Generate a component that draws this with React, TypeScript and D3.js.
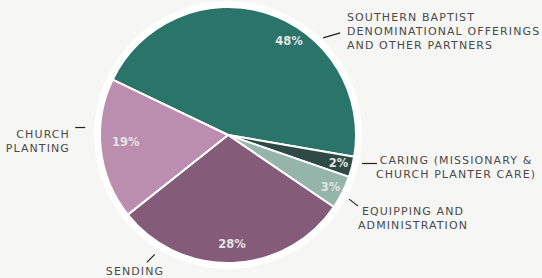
import React from 'react';
import * as d3 from 'd3';

// slice shares (the printed labels are rounded differently)
const categories = ['southern', 'caring', 'equipping', 'sending', 'planting'];
const shares = [45.6, 2.6, 4.2, 29.8, 17.8];
const pctLabels = ['48%', '2%', '3%', '28%', '19%'];
const colors = ['#2b7469', '#2f4a45', '#95b5aa', '#855b7a', '#bb8daf'];

const nameLines = [
  ['SOUTHERN BAPTIST', 'DENOMINATIONAL OFFERINGS', 'AND OTHER PARTNERS'],
  ['CARING (MISSIONARY &', 'CHURCH PLANTER CARE)'],
  ['EQUIPPING AND', 'ADMINISTRATION'],
  ['SENDING'],
  ['CHURCH', 'PLANTING'],
];

const W = 542;
const H = 278;
const cx = 228;
const cy = 135;
const R = 128;
const ringR = 134;
const startDeg = -64.4;

// label placement tweaks (layout, not data)
const pctNudge = [[28, 10], [5, 1], [5, 3], [0, 0], [6, -5]];
const leaders = [
  { deg: 44.4, r: 136, dx: 17, dy: -5 },
  { deg: 102, r: 137, dx: 15, dy: 0 },
  { deg: 117.9, r: 137, dx: 9, dy: 7 },
  { deg: 211.5, r: 140, dx: -8, dy: 8 },
  { deg: 273, r: 143, dx: -10, dy: 0 },
];
const textPos = [
  { x: 347, y: 21, anchor: 'start' },
  { x: 456, y: 164, anchor: 'middle' },
  { x: 413, y: 215, anchor: 'middle' },
  { x: 135, y: 275, anchor: 'middle' },
  { x: 70, y: 138, anchor: 'end' },
];

const rad = (d: number) => (d * Math.PI) / 180;

export default function App() {
  const pie = d3
    .pie<number>()
    .sort(null)
    .startAngle(rad(startDeg))
    .endAngle(rad(startDeg) + 2 * Math.PI)
    .value((d) => d);
  const arcs = pie(shares);
  const arc = d3.arc<d3.PieArcDatum<number>>().innerRadius(0).outerRadius(R);
  const labelArc = d3.arc<d3.PieArcDatum<number>>().innerRadius(104).outerRadius(114);

  const font = "'DejaVu Sans', sans-serif";

  return (
    <svg width={W} height={H} style={{ position: 'fixed', left: 0, top: 0, display: 'block' }}>
      <rect width={W} height={H} fill="#f6f6f5" />
      <g transform={`translate(${cx},${cy})`}>
        <circle r={ringR} fill="#ffffff" />
        {arcs.map((a, i) => (
          <path key={categories[i]} d={arc(a) || ''} fill={colors[i]} stroke="#ffffff" strokeWidth={2} strokeLinejoin="round" />
        ))}
        {arcs.map((a, i) => {
          const [x, y] = labelArc.centroid(a);
          return (
            <text
              key={'p' + i}
              x={x + pctNudge[i][0]}
              y={y + pctNudge[i][1]}
              dy="0.36em"
              textAnchor="middle"
              fontFamily={font}
              fontWeight="bold"
              fontSize={11.5}
              fill="#e4e4e4"
            >
              {pctLabels[i]}
            </text>
          );
        })}
        {leaders.map((l, i) => {
          const x0 = Math.sin(rad(l.deg)) * l.r;
          const y0 = -Math.cos(rad(l.deg)) * l.r;
          return <line key={'l' + i} x1={x0} y1={y0} x2={x0 + l.dx} y2={y0 + l.dy} stroke="#222" strokeWidth={1.2} />;
        })}
      </g>
      {nameLines.map((lines, i) => (
        <text
          key={'n' + i}
          x={textPos[i].x}
          y={textPos[i].y}
          textAnchor={textPos[i].anchor as any}
          fontFamily={font}
          fontSize={11}
          letterSpacing={1.1}
          fill="#4a4a4a"
        >
          {lines.map((t, j) => (
            <tspan key={j} x={textPos[i].x} dy={j === 0 ? 0 : 14}>
              {t}
            </tspan>
          ))}
        </text>
      ))}
    </svg>
  );
}
